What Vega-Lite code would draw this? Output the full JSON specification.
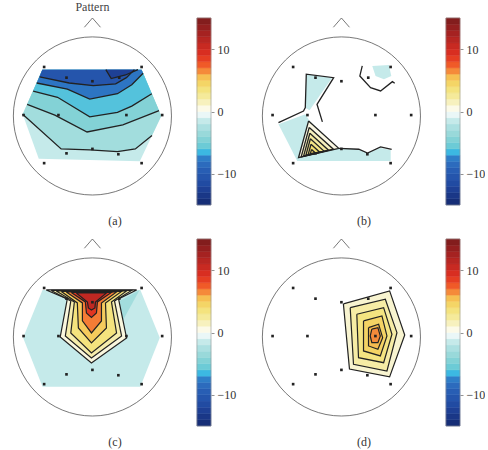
{
  "$schema": "https://vega.github.io/schema/vega-lite/v6.json",
  "padding": {"left": 3, "top": 0, "right": 0, "bottom": 0},
  "background": "white",
  "config": {
    "view": {"stroke": null},
    "title": {"font": "Liberation Serif", "fontSize": 12, "fontWeight": "normal", "color": "#333"}
  },
  "datasets": {
    "head": [{"u": 0, "v": 0}],
    "lbl": [{"t": "Pattern", "u": 0, "v": 1.225}],
    "frame": [{"lo": -15, "hi": 15}],
    "nose": [{"i": 0, "u": -0.09, "v": 0.996}, {"i": 1, "u": 0, "v": 1.1}, {"i": 2, "u": 0.09, "v": 0.996}],
    "e": [
      {"ch": "F7", "u": -0.54, "v": 0.55}, {"ch": "F8", "u": 0.55, "v": 0.55}, {"ch": "F3", "u": -0.29, "v": 0.43},
      {"ch": "Fz", "u": 0, "v": 0.39}, {"ch": "F4", "u": 0.3, "v": 0.43}, {"ch": "T3", "u": -0.77, "v": 0.01},
      {"ch": "C3", "u": -0.38, "v": 0.01}, {"ch": "C4", "u": 0.38, "v": 0.01}, {"ch": "T4", "u": 0.78, "v": 0.01},
      {"ch": "P3", "u": -0.29, "v": -0.42}, {"ch": "Pz", "u": 0, "v": -0.37}, {"ch": "P4", "u": 0.29, "v": -0.43},
      {"ch": "T5", "u": -0.54, "v": -0.53}, {"ch": "T6", "u": 0.55, "v": -0.53}
    ],
    "bar": [
      {"lo": -15, "hi": -14, "mid": -14.5}, {"lo": -14, "hi": -13, "mid": -13.5}, {"lo": -13, "hi": -12, "mid": -12.5},
      {"lo": -12, "hi": -11, "mid": -11.5}, {"lo": -11, "hi": -10, "mid": -10.5}, {"lo": -10, "hi": -9, "mid": -9.5},
      {"lo": -9, "hi": -8, "mid": -8.5}, {"lo": -8, "hi": -7, "mid": -7.5}, {"lo": -7, "hi": -6, "mid": -6.5},
      {"lo": -6, "hi": -5, "mid": -5.5}, {"lo": -5, "hi": -4, "mid": -4.5}, {"lo": -4, "hi": -3, "mid": -3.5},
      {"lo": -3, "hi": -2, "mid": -2.5}, {"lo": -2, "hi": -1, "mid": -1.5}, {"lo": -1, "hi": 0, "mid": -0.5},
      {"lo": 0, "hi": 1, "mid": 0.5}, {"lo": 1, "hi": 2, "mid": 1.5}, {"lo": 2, "hi": 3, "mid": 2.5},
      {"lo": 3, "hi": 4, "mid": 3.5}, {"lo": 4, "hi": 5, "mid": 4.5}, {"lo": 5, "hi": 6, "mid": 5.5},
      {"lo": 6, "hi": 7, "mid": 6.5}, {"lo": 7, "hi": 8, "mid": 7.5}, {"lo": 8, "hi": 9, "mid": 8.5},
      {"lo": 9, "hi": 10, "mid": 9.5}, {"lo": 10, "hi": 11, "mid": 10.5}, {"lo": 11, "hi": 12, "mid": 11.5},
      {"lo": 12, "hi": 13, "mid": 12.5}, {"lo": 13, "hi": 14, "mid": 13.5}, {"lo": 14, "hi": 15, "mid": 14.5}
    ],
    "a": [
      {"g": "a00", "k": "band", "i": 0, "u": -0.56, "v": 0.52, "z": -1.5},
      {"g": "a00", "k": "band", "i": 1, "u": 0.55, "v": 0.52, "z": -1.5},
      {"g": "a00", "k": "band", "i": 2, "u": 0.77, "v": 0.0, "z": -1.5},
      {"g": "a00", "k": "band", "i": 3, "u": 0.53, "v": -0.51, "z": -1.5},
      {"g": "a00", "k": "band", "i": 4, "u": -0.6, "v": -0.48, "z": -1.5},
      {"g": "a00", "k": "band", "i": 5, "u": -0.78, "v": 0.02, "z": -1.5},
      {"g": "a01", "k": "band", "i": 0, "u": -0.78, "v": 0.02, "z": -3},
      {"g": "a01", "k": "band", "i": 1, "u": -0.35, "v": -0.37, "z": -3},
      {"g": "a01", "k": "band", "i": 2, "u": -0.03, "v": -0.38, "z": -3},
      {"g": "a01", "k": "band", "i": 3, "u": 0.28, "v": -0.4, "z": -3},
      {"g": "a01", "k": "band", "i": 4, "u": 0.48, "v": -0.37, "z": -3},
      {"g": "a01", "k": "band", "i": 5, "u": 0.666, "v": -0.22, "z": -3},
      {"g": "a01", "k": "band", "i": 6, "u": 0.77, "v": 0.0, "z": -3},
      {"g": "a01", "k": "band", "i": 7, "u": 0.55, "v": 0.52, "z": -3},
      {"g": "a01", "k": "band", "i": 8, "u": -0.56, "v": 0.52, "z": -3},
      {"g": "a02", "k": "band", "i": 0, "u": -0.73, "v": 0.13, "z": -4.5},
      {"g": "a02", "k": "band", "i": 1, "u": -0.42, "v": 0.01, "z": -4.5},
      {"g": "a02", "k": "band", "i": 2, "u": -0.06, "v": -0.18, "z": -4.5},
      {"g": "a02", "k": "band", "i": 3, "u": 0.34, "v": -0.1, "z": -4.5},
      {"g": "a02", "k": "band", "i": 4, "u": 0.745, "v": 0.06, "z": -4.5},
      {"g": "a02", "k": "band", "i": 5, "u": 0.55, "v": 0.52, "z": -4.5},
      {"g": "a02", "k": "band", "i": 6, "u": -0.56, "v": 0.52, "z": -4.5},
      {"g": "a03", "k": "band", "i": 0, "u": -0.663, "v": 0.28, "z": -6},
      {"g": "a03", "k": "band", "i": 1, "u": -0.39, "v": 0.21, "z": -6},
      {"g": "a03", "k": "band", "i": 2, "u": -0.03, "v": -0.01, "z": -6},
      {"g": "a03", "k": "band", "i": 3, "u": 0.28, "v": 0.04, "z": -6},
      {"g": "a03", "k": "band", "i": 4, "u": 0.44, "v": 0.11, "z": -6},
      {"g": "a03", "k": "band", "i": 5, "u": 0.664, "v": 0.25, "z": -6},
      {"g": "a03", "k": "band", "i": 6, "u": 0.55, "v": 0.52, "z": -6},
      {"g": "a03", "k": "band", "i": 7, "u": -0.56, "v": 0.52, "z": -6},
      {"g": "a04", "k": "band", "i": 0, "u": -0.623, "v": 0.37, "z": -8},
      {"g": "a04", "k": "band", "i": 1, "u": -0.28, "v": 0.3, "z": -8},
      {"g": "a04", "k": "band", "i": 2, "u": -0.03, "v": 0.19, "z": -8},
      {"g": "a04", "k": "band", "i": 3, "u": 0.28, "v": 0.25, "z": -8},
      {"g": "a04", "k": "band", "i": 4, "u": 0.44, "v": 0.35, "z": -8},
      {"g": "a04", "k": "band", "i": 5, "u": 0.567, "v": 0.48, "z": -8},
      {"g": "a04", "k": "band", "i": 6, "u": 0.55, "v": 0.52, "z": -8},
      {"g": "a04", "k": "band", "i": 7, "u": -0.56, "v": 0.52, "z": -8},
      {"g": "a05", "k": "band", "i": 0, "u": -0.59, "v": 0.44, "z": -10.5},
      {"g": "a05", "k": "band", "i": 1, "u": -0.26, "v": 0.37, "z": -10.5},
      {"g": "a05", "k": "band", "i": 2, "u": 0.01, "v": 0.34, "z": -10.5},
      {"g": "a05", "k": "band", "i": 3, "u": 0.26, "v": 0.36, "z": -10.5},
      {"g": "a05", "k": "band", "i": 4, "u": 0.38, "v": 0.43, "z": -10.5},
      {"g": "a05", "k": "band", "i": 5, "u": 0.47, "v": 0.52, "z": -10.5},
      {"g": "a05", "k": "band", "i": 6, "u": -0.56, "v": 0.52, "z": -10.5},
      {"g": "a06", "k": "band", "i": 0, "u": 0.15, "v": 0.52, "z": -12.5},
      {"g": "a06", "k": "band", "i": 1, "u": 0.21, "v": 0.42, "z": -12.5},
      {"g": "a06", "k": "band", "i": 2, "u": 0.37, "v": 0.46, "z": -12.5},
      {"g": "a06", "k": "band", "i": 3, "u": 0.51, "v": 0.52, "z": -12.5},
      {"g": "a07", "k": "line", "i": 0, "u": -0.78, "v": 0.02},
      {"g": "a07", "k": "line", "i": 1, "u": -0.35, "v": -0.37},
      {"g": "a07", "k": "line", "i": 2, "u": -0.03, "v": -0.38},
      {"g": "a07", "k": "line", "i": 3, "u": 0.28, "v": -0.4},
      {"g": "a07", "k": "line", "i": 4, "u": 0.48, "v": -0.37},
      {"g": "a07", "k": "line", "i": 5, "u": 0.666, "v": -0.22},
      {"g": "a08", "k": "line", "i": 0, "u": -0.73, "v": 0.13},
      {"g": "a08", "k": "line", "i": 1, "u": -0.42, "v": 0.01},
      {"g": "a08", "k": "line", "i": 2, "u": -0.06, "v": -0.18},
      {"g": "a08", "k": "line", "i": 3, "u": 0.34, "v": -0.1},
      {"g": "a08", "k": "line", "i": 4, "u": 0.745, "v": 0.06},
      {"g": "a09", "k": "line", "i": 0, "u": -0.663, "v": 0.28},
      {"g": "a09", "k": "line", "i": 1, "u": -0.39, "v": 0.21},
      {"g": "a09", "k": "line", "i": 2, "u": -0.03, "v": -0.01},
      {"g": "a09", "k": "line", "i": 3, "u": 0.28, "v": 0.04},
      {"g": "a09", "k": "line", "i": 4, "u": 0.44, "v": 0.11},
      {"g": "a09", "k": "line", "i": 5, "u": 0.664, "v": 0.25},
      {"g": "a10", "k": "line", "i": 0, "u": -0.623, "v": 0.37},
      {"g": "a10", "k": "line", "i": 1, "u": -0.28, "v": 0.3},
      {"g": "a10", "k": "line", "i": 2, "u": -0.03, "v": 0.19},
      {"g": "a10", "k": "line", "i": 3, "u": 0.28, "v": 0.25},
      {"g": "a10", "k": "line", "i": 4, "u": 0.44, "v": 0.35},
      {"g": "a10", "k": "line", "i": 5, "u": 0.567, "v": 0.48},
      {"g": "a11", "k": "line", "i": 0, "u": -0.59, "v": 0.44},
      {"g": "a11", "k": "line", "i": 1, "u": -0.26, "v": 0.37},
      {"g": "a11", "k": "line", "i": 2, "u": 0.01, "v": 0.34},
      {"g": "a11", "k": "line", "i": 3, "u": 0.26, "v": 0.36},
      {"g": "a11", "k": "line", "i": 4, "u": 0.38, "v": 0.43},
      {"g": "a11", "k": "line", "i": 5, "u": 0.47, "v": 0.52},
      {"g": "a12", "k": "line", "i": 0, "u": 0.15, "v": 0.52},
      {"g": "a12", "k": "line", "i": 1, "u": 0.21, "v": 0.42},
      {"g": "a12", "k": "line", "i": 2, "u": 0.37, "v": 0.46},
      {"g": "a12", "k": "line", "i": 3, "u": 0.51, "v": 0.52}
    ],
    "b": [
      {"g": "b00", "k": "band", "i": 0, "u": -0.393, "v": 0.469, "z": -1.5},
      {"g": "b00", "k": "band", "i": 1, "u": -0.104, "v": 0.43, "z": -1.5},
      {"g": "b00", "k": "band", "i": 2, "u": -0.356, "v": 0.064, "z": -1.5},
      {"g": "b00", "k": "band", "i": 3, "u": -0.404, "v": 0.093, "z": -1.5},
      {"g": "b01", "k": "band", "i": 0, "u": -0.704, "v": -0.093, "z": -1.5},
      {"g": "b01", "k": "band", "i": 1, "u": -0.404, "v": 0.019, "z": -1.5},
      {"g": "b01", "k": "band", "i": 2, "u": -0.356, "v": -0.056, "z": -1.5},
      {"g": "b01", "k": "band", "i": 3, "u": -0.03, "v": -0.363, "z": -1.5},
      {"g": "b01", "k": "band", "i": 4, "u": 0.194, "v": -0.374, "z": -1.5},
      {"g": "b01", "k": "band", "i": 5, "u": 0.292, "v": -0.416, "z": -1.5},
      {"g": "b01", "k": "band", "i": 6, "u": 0.438, "v": -0.36, "z": -1.5},
      {"g": "b01", "k": "band", "i": 7, "u": 0.551, "v": -0.382, "z": -1.5},
      {"g": "b01", "k": "band", "i": 8, "u": 0.551, "v": -0.506, "z": -1.5},
      {"g": "b01", "k": "band", "i": 9, "u": -0.494, "v": -0.506, "z": -1.5},
      {"g": "b01", "k": "band", "i": 10, "u": -0.596, "v": -0.303, "z": -1.5},
      {"g": "b02", "k": "band", "i": 0, "u": 0.345, "v": 0.562, "z": -1.5},
      {"g": "b02", "k": "band", "i": 1, "u": 0.531, "v": 0.573, "z": -1.5},
      {"g": "b02", "k": "band", "i": 2, "u": 0.558, "v": 0.449, "z": -1.5},
      {"g": "b02", "k": "band", "i": 3, "u": 0.475, "v": 0.412, "z": -1.5},
      {"g": "b02", "k": "band", "i": 4, "u": 0.382, "v": 0.449, "z": -1.5},
      {"g": "b03", "k": "contour", "i": 0, "u": -0.367, "v": -0.056, "z": 0.6},
      {"g": "b03", "k": "contour", "i": 1, "u": -0.48, "v": -0.469, "z": 0.6},
      {"g": "b03", "k": "contour", "i": 2, "u": -0.03, "v": -0.363, "z": 0.6},
      {"g": "b03", "k": "contour", "i": 3, "u": -0.367, "v": -0.056, "z": 0.6},
      {"g": "b04", "k": "contour", "i": 0, "u": -0.36, "v": -0.129, "z": 1.5},
      {"g": "b04", "k": "contour", "i": 1, "u": -0.45, "v": -0.459, "z": 1.5},
      {"g": "b04", "k": "contour", "i": 2, "u": -0.09, "v": -0.374, "z": 1.5},
      {"g": "b04", "k": "contour", "i": 3, "u": -0.36, "v": -0.129, "z": 1.5},
      {"g": "b05", "k": "contour", "i": 0, "u": -0.353, "v": -0.194, "z": 2.4},
      {"g": "b05", "k": "contour", "i": 1, "u": -0.423, "v": -0.45, "z": 2.4},
      {"g": "b05", "k": "contour", "i": 2, "u": -0.144, "v": -0.385, "z": 2.4},
      {"g": "b05", "k": "contour", "i": 3, "u": -0.353, "v": -0.194, "z": 2.4},
      {"g": "b06", "k": "contour", "i": 0, "u": -0.347, "v": -0.256, "z": 3.2},
      {"g": "b06", "k": "contour", "i": 1, "u": -0.398, "v": -0.442, "z": 3.2},
      {"g": "b06", "k": "contour", "i": 2, "u": -0.195, "v": -0.394, "z": 3.2},
      {"g": "b06", "k": "contour", "i": 3, "u": -0.347, "v": -0.256, "z": 3.2},
      {"g": "b07", "k": "contour", "i": 0, "u": -0.34, "v": -0.318, "z": 4.0},
      {"g": "b07", "k": "contour", "i": 1, "u": -0.372, "v": -0.434, "z": 4.0},
      {"g": "b07", "k": "contour", "i": 2, "u": -0.246, "v": -0.404, "z": 4.0},
      {"g": "b07", "k": "contour", "i": 3, "u": -0.34, "v": -0.318, "z": 4.0},
      {"g": "b08", "k": "contour", "i": 0, "u": -0.334, "v": -0.376, "z": 4.8},
      {"g": "b08", "k": "contour", "i": 1, "u": -0.348, "v": -0.426, "z": 4.8},
      {"g": "b08", "k": "contour", "i": 2, "u": -0.294, "v": -0.413, "z": 4.8},
      {"g": "b08", "k": "contour", "i": 3, "u": -0.334, "v": -0.376, "z": 4.8},
      {"g": "b09", "k": "line", "i": 0, "u": -0.704, "v": -0.075},
      {"g": "b09", "k": "line", "i": 1, "u": -0.424, "v": 0.056},
      {"g": "b09", "k": "line", "i": 2, "u": -0.404, "v": 0.093},
      {"g": "b09", "k": "line", "i": 3, "u": -0.393, "v": 0.469},
      {"g": "b09", "k": "line", "i": 4, "u": -0.087, "v": 0.43},
      {"g": "b09", "k": "line", "i": 5, "u": -0.273, "v": 0.131},
      {"g": "b09", "k": "line", "i": 6, "u": -0.213, "v": -0.067},
      {"g": "b10", "k": "line", "i": 0, "u": -0.03, "v": -0.363},
      {"g": "b10", "k": "line", "i": 1, "u": 0.194, "v": -0.374},
      {"g": "b10", "k": "line", "i": 2, "u": 0.292, "v": -0.416},
      {"g": "b10", "k": "line", "i": 3, "u": 0.438, "v": -0.348},
      {"g": "b10", "k": "line", "i": 4, "u": 0.562, "v": -0.376},
      {"g": "b11", "k": "line", "i": 0, "u": 0.233, "v": 0.562},
      {"g": "b11", "k": "line", "i": 1, "u": 0.206, "v": 0.449},
      {"g": "b11", "k": "line", "i": 2, "u": 0.326, "v": 0.318},
      {"g": "b11", "k": "line", "i": 3, "u": 0.438, "v": 0.281},
      {"g": "b11", "k": "line", "i": 4, "u": 0.57, "v": 0.385},
      {"g": "b11", "k": "line", "i": 5, "u": 0.596, "v": 0.367}
    ],
    "c": [
      {"g": "c00", "k": "band", "i": 0, "u": -0.558, "v": 0.528, "z": -1.5},
      {"g": "c00", "k": "band", "i": 1, "u": 0.536, "v": 0.528, "z": -1.5},
      {"g": "c00", "k": "band", "i": 2, "u": 0.753, "v": -0.008, "z": -1.5},
      {"g": "c00", "k": "band", "i": 3, "u": 0.536, "v": -0.558, "z": -1.5},
      {"g": "c00", "k": "band", "i": 4, "u": -0.558, "v": -0.558, "z": -1.5},
      {"g": "c00", "k": "band", "i": 5, "u": -0.775, "v": -0.008, "z": -1.5},
      {"g": "c01", "k": "band", "i": 0, "u": 0.303, "v": 0.404, "z": -3},
      {"g": "c01", "k": "band", "i": 1, "u": 0.528, "v": 0.528, "z": -3},
      {"g": "c01", "k": "band", "i": 2, "u": 0.337, "v": 0.18, "z": -3},
      {"g": "c02", "k": "contour", "i": 0, "u": -0.517, "v": 0.528, "z": 0.7},
      {"g": "c02", "k": "contour", "i": 1, "u": 0.494, "v": 0.528, "z": 0.7},
      {"g": "c02", "k": "contour", "i": 2, "u": 0.292, "v": 0.427, "z": 0.7},
      {"g": "c02", "k": "contour", "i": 3, "u": 0.382, "v": -0.011, "z": 0.7},
      {"g": "c02", "k": "contour", "i": 4, "u": -0.011, "v": -0.292, "z": 0.7},
      {"g": "c02", "k": "contour", "i": 5, "u": -0.36, "v": 0.0, "z": 0.7},
      {"g": "c02", "k": "contour", "i": 6, "u": -0.281, "v": 0.427, "z": 0.7},
      {"g": "c02", "k": "contour", "i": 7, "u": -0.517, "v": 0.528, "z": 0.7},
      {"g": "c03", "k": "contour", "i": 0, "u": -0.461, "v": 0.522, "z": 2},
      {"g": "c03", "k": "contour", "i": 1, "u": 0.438, "v": 0.522, "z": 2},
      {"g": "c03", "k": "contour", "i": 2, "u": 0.247, "v": 0.404, "z": 2},
      {"g": "c03", "k": "contour", "i": 3, "u": 0.326, "v": 0.011, "z": 2},
      {"g": "c03", "k": "contour", "i": 4, "u": -0.011, "v": -0.236, "z": 2},
      {"g": "c03", "k": "contour", "i": 5, "u": -0.303, "v": 0.011, "z": 2},
      {"g": "c03", "k": "contour", "i": 6, "u": -0.242, "v": 0.404, "z": 2},
      {"g": "c03", "k": "contour", "i": 7, "u": -0.461, "v": 0.522, "z": 2},
      {"g": "c04", "k": "contour", "i": 0, "u": -0.404, "v": 0.517, "z": 3.5},
      {"g": "c04", "k": "contour", "i": 1, "u": 0.382, "v": 0.517, "z": 3.5},
      {"g": "c04", "k": "contour", "i": 2, "u": 0.213, "v": 0.393, "z": 3.5},
      {"g": "c04", "k": "contour", "i": 3, "u": 0.27, "v": 0.045, "z": 3.5},
      {"g": "c04", "k": "contour", "i": 4, "u": -0.011, "v": -0.18, "z": 3.5},
      {"g": "c04", "k": "contour", "i": 5, "u": -0.242, "v": 0.045, "z": 3.5},
      {"g": "c04", "k": "contour", "i": 6, "u": -0.202, "v": 0.393, "z": 3.5},
      {"g": "c04", "k": "contour", "i": 7, "u": -0.404, "v": 0.517, "z": 3.5},
      {"g": "c05", "k": "contour", "i": 0, "u": -0.348, "v": 0.511, "z": 5},
      {"g": "c05", "k": "contour", "i": 1, "u": 0.326, "v": 0.511, "z": 5},
      {"g": "c05", "k": "contour", "i": 2, "u": 0.146, "v": 0.382, "z": 5},
      {"g": "c05", "k": "contour", "i": 3, "u": 0.157, "v": 0.101, "z": 5},
      {"g": "c05", "k": "contour", "i": 4, "u": -0.011, "v": -0.067, "z": 5},
      {"g": "c05", "k": "contour", "i": 5, "u": -0.157, "v": 0.101, "z": 5},
      {"g": "c05", "k": "contour", "i": 6, "u": -0.169, "v": 0.382, "z": 5},
      {"g": "c05", "k": "contour", "i": 7, "u": -0.348, "v": 0.511, "z": 5},
      {"g": "c06", "k": "contour", "i": 0, "u": -0.292, "v": 0.506, "z": 6.8},
      {"g": "c06", "k": "contour", "i": 1, "u": 0.27, "v": 0.506, "z": 6.8},
      {"g": "c06", "k": "contour", "i": 2, "u": 0.101, "v": 0.382, "z": 6.8},
      {"g": "c06", "k": "contour", "i": 3, "u": 0.101, "v": 0.18, "z": 6.8},
      {"g": "c06", "k": "contour", "i": 4, "u": -0.011, "v": 0.045, "z": 6.8},
      {"g": "c06", "k": "contour", "i": 5, "u": -0.112, "v": 0.18, "z": 6.8},
      {"g": "c06", "k": "contour", "i": 6, "u": -0.112, "v": 0.382, "z": 6.8},
      {"g": "c06", "k": "contour", "i": 7, "u": -0.292, "v": 0.506, "z": 6.8},
      {"g": "c07", "k": "contour", "i": 0, "u": -0.236, "v": 0.5, "z": 8.8},
      {"g": "c07", "k": "contour", "i": 1, "u": 0.213, "v": 0.5, "z": 8.8},
      {"g": "c07", "k": "contour", "i": 2, "u": 0.056, "v": 0.393, "z": 8.8},
      {"g": "c07", "k": "contour", "i": 3, "u": 0.045, "v": 0.27, "z": 8.8},
      {"g": "c07", "k": "contour", "i": 4, "u": -0.011, "v": 0.219, "z": 8.8},
      {"g": "c07", "k": "contour", "i": 5, "u": -0.067, "v": 0.27, "z": 8.8},
      {"g": "c07", "k": "contour", "i": 6, "u": -0.079, "v": 0.393, "z": 8.8},
      {"g": "c07", "k": "contour", "i": 7, "u": -0.236, "v": 0.5, "z": 8.8},
      {"g": "c08", "k": "contour", "i": 0, "u": -0.18, "v": 0.494, "z": 11},
      {"g": "c08", "k": "contour", "i": 1, "u": 0.157, "v": 0.494, "z": 11},
      {"g": "c08", "k": "contour", "i": 2, "u": 0.034, "v": 0.393, "z": 11},
      {"g": "c08", "k": "contour", "i": 3, "u": 0.028, "v": 0.326, "z": 11},
      {"g": "c08", "k": "contour", "i": 4, "u": -0.011, "v": 0.303, "z": 11},
      {"g": "c08", "k": "contour", "i": 5, "u": -0.045, "v": 0.326, "z": 11},
      {"g": "c08", "k": "contour", "i": 6, "u": -0.056, "v": 0.393, "z": 11},
      {"g": "c08", "k": "contour", "i": 7, "u": -0.18, "v": 0.494, "z": 11}
    ],
    "d": [
      {"g": "d00", "k": "contour", "i": 0, "u": 0.022, "v": 0.371, "z": 1},
      {"g": "d00", "k": "contour", "i": 1, "u": 0.539, "v": 0.517, "z": 1},
      {"g": "d00", "k": "contour", "i": 2, "u": 0.708, "v": 0.022, "z": 1},
      {"g": "d00", "k": "contour", "i": 3, "u": 0.539, "v": -0.449, "z": 1},
      {"g": "d00", "k": "contour", "i": 4, "u": 0.09, "v": -0.36, "z": 1},
      {"g": "d00", "k": "contour", "i": 5, "u": 0.022, "v": 0.371, "z": 1},
      {"g": "d01", "k": "contour", "i": 0, "u": 0.098, "v": 0.329, "z": 2.2},
      {"g": "d01", "k": "contour", "i": 1, "u": 0.491, "v": 0.424, "z": 2.2},
      {"g": "d01", "k": "contour", "i": 2, "u": 0.621, "v": 0.048, "z": 2.2},
      {"g": "d01", "k": "contour", "i": 3, "u": 0.509, "v": -0.382, "z": 2.2},
      {"g": "d01", "k": "contour", "i": 4, "u": 0.135, "v": -0.307, "z": 2.2},
      {"g": "d01", "k": "contour", "i": 5, "u": 0.098, "v": 0.329, "z": 2.2},
      {"g": "d02", "k": "contour", "i": 0, "u": 0.172, "v": 0.255, "z": 3.4},
      {"g": "d02", "k": "contour", "i": 1, "u": 0.472, "v": 0.329, "z": 3.4},
      {"g": "d02", "k": "contour", "i": 2, "u": 0.565, "v": 0.03, "z": 3.4},
      {"g": "d02", "k": "contour", "i": 3, "u": 0.472, "v": -0.289, "z": 3.4},
      {"g": "d02", "k": "contour", "i": 4, "u": 0.191, "v": -0.233, "z": 3.4},
      {"g": "d02", "k": "contour", "i": 5, "u": 0.172, "v": 0.255, "z": 3.4},
      {"g": "d03", "k": "contour", "i": 0, "u": 0.247, "v": 0.18, "z": 4.6},
      {"g": "d03", "k": "contour", "i": 1, "u": 0.453, "v": 0.236, "z": 4.6},
      {"g": "d03", "k": "contour", "i": 2, "u": 0.509, "v": 0.011, "z": 4.6},
      {"g": "d03", "k": "contour", "i": 3, "u": 0.435, "v": -0.213, "z": 4.6},
      {"g": "d03", "k": "contour", "i": 4, "u": 0.247, "v": -0.157, "z": 4.6},
      {"g": "d03", "k": "contour", "i": 5, "u": 0.247, "v": 0.18, "z": 4.6},
      {"g": "d04", "k": "contour", "i": 0, "u": 0.303, "v": 0.104, "z": 5.6},
      {"g": "d04", "k": "contour", "i": 1, "u": 0.416, "v": 0.143, "z": 5.6},
      {"g": "d04", "k": "contour", "i": 2, "u": 0.461, "v": -0.008, "z": 5.6},
      {"g": "d04", "k": "contour", "i": 3, "u": 0.408, "v": -0.138, "z": 5.6},
      {"g": "d04", "k": "contour", "i": 4, "u": 0.303, "v": -0.101, "z": 5.6},
      {"g": "d04", "k": "contour", "i": 5, "u": 0.303, "v": 0.104, "z": 5.6},
      {"g": "d05", "k": "contour", "i": 0, "u": 0.34, "v": 0.087, "z": 6.5},
      {"g": "d05", "k": "contour", "i": 1, "u": 0.408, "v": 0.104, "z": 6.5},
      {"g": "d05", "k": "contour", "i": 2, "u": 0.435, "v": 0.011, "z": 6.5},
      {"g": "d05", "k": "contour", "i": 3, "u": 0.408, "v": -0.064, "z": 6.5},
      {"g": "d05", "k": "contour", "i": 4, "u": 0.34, "v": -0.064, "z": 6.5},
      {"g": "d05", "k": "contour", "i": 5, "u": 0.322, "v": 0.011, "z": 6.5},
      {"g": "d05", "k": "contour", "i": 6, "u": 0.34, "v": 0.087, "z": 6.5}
    ]
  },
  "columns": 2,
  "spacing": {"row": 34, "column": 41},
  "bounds": "flush",
  "concat": [
    {
      "width": 208, "height": 187,
      "title": {"text": "(a)", "orient": "bottom", "offset": 11, "dx": 8},
      "resolve": {"scale": {"y": "independent"}},
      "layer": [
        {
          "layer": [
            {"data": {"name": "head"}, "mark": {"type": "point", "shape": "circle", "size": 25000, "filled": false, "color": "#555", "strokeWidth": 0.8, "opacity": 1}},
            {"data": {"name": "nose"}, "mark": {"type": "line", "color": "#555", "strokeWidth": 0.8}, "encoding": {"order": {"field": "i"}}},
            {"data": {"name": "a"}, "transform": [{"filter": "datum.k !== 'line'"}], "mark": {"type": "line", "strokeOpacity": 0, "strokeWidth": 0},
             "encoding": {"detail": {"field": "g"}, "order": {"field": "i"}, "fill": {"field": "z", "type": "quantitative", "legend": null, "scale": {"type": "linear", "domain": [-15, -13, -11, -9, -7.5, -6.5, -5.5, -4, -2, -1, 0, 1, 2.5, 4, 5.5, 6.5, 7.5, 9, 11, 13, 15], "range": ["#14296f", "#1c3b8f", "#2350a8", "#2a62b8", "#2f7ec8", "#3cb8e2", "#6ccbd6", "#8fd5d6", "#b5e4e4", "#d4efef", "#ffffff", "#f8f4d0", "#f5ea9a", "#f3e070", "#f6c052", "#f58a3a", "#f05a28", "#e03020", "#c02822", "#9c2020", "#7a1c1c"], "interpolate": "rgb"}}}},
            {"data": {"name": "a"}, "transform": [{"filter": "datum.k !== 'band'"}], "mark": {"type": "line", "color": "#222", "strokeWidth": 1.3},
             "encoding": {"detail": {"field": "g"}, "order": {"field": "i"}}},
            {"data": {"name": "e"}, "mark": {"type": "square", "size": 7, "color": "#222", "opacity": 1}},
            {"data": {"name": "lbl"}, "mark": {"type": "text", "font": "Liberation Serif", "fontSize": 12, "color": "#444", "baseline": "middle"},
             "encoding": {"text": {"field": "t"}}}
          ],
          "encoding": {
            "x": {"field": "u", "type": "quantitative", "scale": {"domain": [-1, 1.326], "nice": false, "zero": false}, "axis": null},
            "y": {"field": "v", "type": "quantitative", "scale": {"domain": [-1, 1.1], "nice": false, "zero": false}, "axis": null}
          }
        },
        {
          "layer": [
            {"data": {"name": "bar"}, "mark": {"type": "rect", "strokeWidth": 0.5},
             "encoding": {
               "x": {"datum": 1.169, "type": "quantitative", "scale": {"domain": [-1, 1.326], "nice": false, "zero": false}, "axis": null},
               "x2": {"datum": 1.326},
               "y": {"field": "lo", "type": "quantitative", "scale": {"domain": [-15, 15], "nice": false, "zero": false}, "axis": {"orient": "right", "values": [-10, 0, 10], "format": "d", "tickSize": 3, "tickColor": "#777", "tickWidth": 0.8, "domain": false, "grid": false, "title": null, "labelFont": "Liberation Serif", "labelFontSize": 12, "labelColor": "#333", "labelPadding": 3}},
               "y2": {"field": "hi"},
               "fill": {"field": "mid", "type": "quantitative", "legend": null, "scale": {"type": "linear", "domain": [-15, -13, -11, -9, -7.5, -6.5, -5.5, -4, -2, -1, 0, 1, 2.5, 4, 5.5, 6.5, 7.5, 9, 11, 13, 15], "range": ["#14296f", "#1c3b8f", "#2350a8", "#2a62b8", "#2f7ec8", "#3cb8e2", "#6ccbd6", "#8fd5d6", "#b5e4e4", "#d4efef", "#ffffff", "#f8f4d0", "#f5ea9a", "#f3e070", "#f6c052", "#f58a3a", "#f05a28", "#e03020", "#c02822", "#9c2020", "#7a1c1c"], "interpolate": "rgb"}},
               "stroke": {"field": "mid", "type": "quantitative", "legend": null, "scale": {"type": "linear", "domain": [-15, -13, -11, -9, -7.5, -6.5, -5.5, -4, -2, -1, 0, 1, 2.5, 4, 5.5, 6.5, 7.5, 9, 11, 13, 15], "range": ["#14296f", "#1c3b8f", "#2350a8", "#2a62b8", "#2f7ec8", "#3cb8e2", "#6ccbd6", "#8fd5d6", "#b5e4e4", "#d4efef", "#ffffff", "#f8f4d0", "#f5ea9a", "#f3e070", "#f6c052", "#f58a3a", "#f05a28", "#e03020", "#c02822", "#9c2020", "#7a1c1c"], "interpolate": "rgb"}}
             }},
            {"data": {"name": "frame"}, "mark": {"type": "rect", "filled": false, "color": "#999", "strokeWidth": 0.6},
             "encoding": {
               "x": {"datum": 1.169, "type": "quantitative", "scale": {"domain": [-1, 1.326], "nice": false, "zero": false}, "axis": null},
               "x2": {"datum": 1.326},
               "y": {"field": "lo", "type": "quantitative", "scale": {"domain": [-15, 15], "nice": false, "zero": false}},
               "y2": {"field": "hi"}
             }}
          ]
        }
      ]
    },
    {
      "width": 208, "height": 187,
      "title": {"text": "(b)", "orient": "bottom", "offset": 11, "dx": 8},
      "resolve": {"scale": {"y": "independent"}},
      "layer": [
        {
          "layer": [
            {"data": {"name": "head"}, "mark": {"type": "point", "shape": "circle", "size": 25000, "filled": false, "color": "#555", "strokeWidth": 0.8, "opacity": 1}},
            {"data": {"name": "nose"}, "mark": {"type": "line", "color": "#555", "strokeWidth": 0.8}, "encoding": {"order": {"field": "i"}}},
            {"data": {"name": "b"}, "transform": [{"filter": "datum.k !== 'line'"}], "mark": {"type": "line", "strokeOpacity": 0, "strokeWidth": 0},
             "encoding": {"detail": {"field": "g"}, "order": {"field": "i"}, "fill": {"field": "z", "type": "quantitative", "legend": null, "scale": {"type": "linear", "domain": [-15, -13, -11, -9, -7.5, -6.5, -5.5, -4, -2, -1, 0, 1, 2.5, 4, 5.5, 6.5, 7.5, 9, 11, 13, 15], "range": ["#14296f", "#1c3b8f", "#2350a8", "#2a62b8", "#2f7ec8", "#3cb8e2", "#6ccbd6", "#8fd5d6", "#b5e4e4", "#d4efef", "#ffffff", "#f8f4d0", "#f5ea9a", "#f3e070", "#f6c052", "#f58a3a", "#f05a28", "#e03020", "#c02822", "#9c2020", "#7a1c1c"], "interpolate": "rgb"}}}},
            {"data": {"name": "b"}, "transform": [{"filter": "datum.k !== 'band'"}], "mark": {"type": "line", "color": "#222", "strokeWidth": 1.3},
             "encoding": {"detail": {"field": "g"}, "order": {"field": "i"}}},
            {"data": {"name": "e"}, "mark": {"type": "square", "size": 7, "color": "#222", "opacity": 1}}
          ],
          "encoding": {
            "x": {"field": "u", "type": "quantitative", "scale": {"domain": [-1, 1.326], "nice": false, "zero": false}, "axis": null},
            "y": {"field": "v", "type": "quantitative", "scale": {"domain": [-1, 1.1], "nice": false, "zero": false}, "axis": null}
          }
        },
        {
          "layer": [
            {"data": {"name": "bar"}, "mark": {"type": "rect", "strokeWidth": 0.5},
             "encoding": {
               "x": {"datum": 1.169, "type": "quantitative", "scale": {"domain": [-1, 1.326], "nice": false, "zero": false}, "axis": null},
               "x2": {"datum": 1.326},
               "y": {"field": "lo", "type": "quantitative", "scale": {"domain": [-15, 15], "nice": false, "zero": false}, "axis": {"orient": "right", "values": [-10, 0, 10], "format": "d", "tickSize": 3, "tickColor": "#777", "tickWidth": 0.8, "domain": false, "grid": false, "title": null, "labelFont": "Liberation Serif", "labelFontSize": 12, "labelColor": "#333", "labelPadding": 3}},
               "y2": {"field": "hi"},
               "fill": {"field": "mid", "type": "quantitative", "legend": null, "scale": {"type": "linear", "domain": [-15, -13, -11, -9, -7.5, -6.5, -5.5, -4, -2, -1, 0, 1, 2.5, 4, 5.5, 6.5, 7.5, 9, 11, 13, 15], "range": ["#14296f", "#1c3b8f", "#2350a8", "#2a62b8", "#2f7ec8", "#3cb8e2", "#6ccbd6", "#8fd5d6", "#b5e4e4", "#d4efef", "#ffffff", "#f8f4d0", "#f5ea9a", "#f3e070", "#f6c052", "#f58a3a", "#f05a28", "#e03020", "#c02822", "#9c2020", "#7a1c1c"], "interpolate": "rgb"}},
               "stroke": {"field": "mid", "type": "quantitative", "legend": null, "scale": {"type": "linear", "domain": [-15, -13, -11, -9, -7.5, -6.5, -5.5, -4, -2, -1, 0, 1, 2.5, 4, 5.5, 6.5, 7.5, 9, 11, 13, 15], "range": ["#14296f", "#1c3b8f", "#2350a8", "#2a62b8", "#2f7ec8", "#3cb8e2", "#6ccbd6", "#8fd5d6", "#b5e4e4", "#d4efef", "#ffffff", "#f8f4d0", "#f5ea9a", "#f3e070", "#f6c052", "#f58a3a", "#f05a28", "#e03020", "#c02822", "#9c2020", "#7a1c1c"], "interpolate": "rgb"}}
             }},
            {"data": {"name": "frame"}, "mark": {"type": "rect", "filled": false, "color": "#999", "strokeWidth": 0.6},
             "encoding": {
               "x": {"datum": 1.169, "type": "quantitative", "scale": {"domain": [-1, 1.326], "nice": false, "zero": false}, "axis": null},
               "x2": {"datum": 1.326},
               "y": {"field": "lo", "type": "quantitative", "scale": {"domain": [-15, 15], "nice": false, "zero": false}},
               "y2": {"field": "hi"}
             }}
          ]
        }
      ]
    },
    {
      "width": 208, "height": 187,
      "title": {"text": "(c)", "orient": "bottom", "offset": 11, "dx": 8},
      "resolve": {"scale": {"y": "independent"}},
      "layer": [
        {
          "layer": [
            {"data": {"name": "head"}, "mark": {"type": "point", "shape": "circle", "size": 25000, "filled": false, "color": "#555", "strokeWidth": 0.8, "opacity": 1}},
            {"data": {"name": "nose"}, "mark": {"type": "line", "color": "#555", "strokeWidth": 0.8}, "encoding": {"order": {"field": "i"}}},
            {"data": {"name": "c"}, "transform": [{"filter": "datum.k !== 'line'"}], "mark": {"type": "line", "strokeOpacity": 0, "strokeWidth": 0},
             "encoding": {"detail": {"field": "g"}, "order": {"field": "i"}, "fill": {"field": "z", "type": "quantitative", "legend": null, "scale": {"type": "linear", "domain": [-15, -13, -11, -9, -7.5, -6.5, -5.5, -4, -2, -1, 0, 1, 2.5, 4, 5.5, 6.5, 7.5, 9, 11, 13, 15], "range": ["#14296f", "#1c3b8f", "#2350a8", "#2a62b8", "#2f7ec8", "#3cb8e2", "#6ccbd6", "#8fd5d6", "#b5e4e4", "#d4efef", "#ffffff", "#f8f4d0", "#f5ea9a", "#f3e070", "#f6c052", "#f58a3a", "#f05a28", "#e03020", "#c02822", "#9c2020", "#7a1c1c"], "interpolate": "rgb"}}}},
            {"data": {"name": "c"}, "transform": [{"filter": "datum.k !== 'band'"}], "mark": {"type": "line", "color": "#222", "strokeWidth": 1.2},
             "encoding": {"detail": {"field": "g"}, "order": {"field": "i"}}},
            {"data": {"name": "e"}, "mark": {"type": "square", "size": 7, "color": "#222", "opacity": 1}}
          ],
          "encoding": {
            "x": {"field": "u", "type": "quantitative", "scale": {"domain": [-1, 1.326], "nice": false, "zero": false}, "axis": null},
            "y": {"field": "v", "type": "quantitative", "scale": {"domain": [-1, 1.1], "nice": false, "zero": false}, "axis": null}
          }
        },
        {
          "layer": [
            {"data": {"name": "bar"}, "mark": {"type": "rect", "strokeWidth": 0.5},
             "encoding": {
               "x": {"datum": 1.169, "type": "quantitative", "scale": {"domain": [-1, 1.326], "nice": false, "zero": false}, "axis": null},
               "x2": {"datum": 1.326},
               "y": {"field": "lo", "type": "quantitative", "scale": {"domain": [-15, 15], "nice": false, "zero": false}, "axis": {"orient": "right", "values": [-10, 0, 10], "format": "d", "tickSize": 3, "tickColor": "#777", "tickWidth": 0.8, "domain": false, "grid": false, "title": null, "labelFont": "Liberation Serif", "labelFontSize": 12, "labelColor": "#333", "labelPadding": 3}},
               "y2": {"field": "hi"},
               "fill": {"field": "mid", "type": "quantitative", "legend": null, "scale": {"type": "linear", "domain": [-15, -13, -11, -9, -7.5, -6.5, -5.5, -4, -2, -1, 0, 1, 2.5, 4, 5.5, 6.5, 7.5, 9, 11, 13, 15], "range": ["#14296f", "#1c3b8f", "#2350a8", "#2a62b8", "#2f7ec8", "#3cb8e2", "#6ccbd6", "#8fd5d6", "#b5e4e4", "#d4efef", "#ffffff", "#f8f4d0", "#f5ea9a", "#f3e070", "#f6c052", "#f58a3a", "#f05a28", "#e03020", "#c02822", "#9c2020", "#7a1c1c"], "interpolate": "rgb"}},
               "stroke": {"field": "mid", "type": "quantitative", "legend": null, "scale": {"type": "linear", "domain": [-15, -13, -11, -9, -7.5, -6.5, -5.5, -4, -2, -1, 0, 1, 2.5, 4, 5.5, 6.5, 7.5, 9, 11, 13, 15], "range": ["#14296f", "#1c3b8f", "#2350a8", "#2a62b8", "#2f7ec8", "#3cb8e2", "#6ccbd6", "#8fd5d6", "#b5e4e4", "#d4efef", "#ffffff", "#f8f4d0", "#f5ea9a", "#f3e070", "#f6c052", "#f58a3a", "#f05a28", "#e03020", "#c02822", "#9c2020", "#7a1c1c"], "interpolate": "rgb"}}
             }},
            {"data": {"name": "frame"}, "mark": {"type": "rect", "filled": false, "color": "#999", "strokeWidth": 0.6},
             "encoding": {
               "x": {"datum": 1.169, "type": "quantitative", "scale": {"domain": [-1, 1.326], "nice": false, "zero": false}, "axis": null},
               "x2": {"datum": 1.326},
               "y": {"field": "lo", "type": "quantitative", "scale": {"domain": [-15, 15], "nice": false, "zero": false}},
               "y2": {"field": "hi"}
             }}
          ]
        }
      ]
    },
    {
      "width": 208, "height": 187,
      "title": {"text": "(d)", "orient": "bottom", "offset": 11, "dx": 8},
      "resolve": {"scale": {"y": "independent"}},
      "layer": [
        {
          "layer": [
            {"data": {"name": "head"}, "mark": {"type": "point", "shape": "circle", "size": 25000, "filled": false, "color": "#555", "strokeWidth": 0.8, "opacity": 1}},
            {"data": {"name": "nose"}, "mark": {"type": "line", "color": "#555", "strokeWidth": 0.8}, "encoding": {"order": {"field": "i"}}},
            {"data": {"name": "d"}, "transform": [{"filter": "datum.k !== 'line'"}], "mark": {"type": "line", "strokeOpacity": 0, "strokeWidth": 0},
             "encoding": {"detail": {"field": "g"}, "order": {"field": "i"}, "fill": {"field": "z", "type": "quantitative", "legend": null, "scale": {"type": "linear", "domain": [-15, -13, -11, -9, -7.5, -6.5, -5.5, -4, -2, -1, 0, 1, 2.5, 4, 5.5, 6.5, 7.5, 9, 11, 13, 15], "range": ["#14296f", "#1c3b8f", "#2350a8", "#2a62b8", "#2f7ec8", "#3cb8e2", "#6ccbd6", "#8fd5d6", "#b5e4e4", "#d4efef", "#ffffff", "#f8f4d0", "#f5ea9a", "#f3e070", "#f6c052", "#f58a3a", "#f05a28", "#e03020", "#c02822", "#9c2020", "#7a1c1c"], "interpolate": "rgb"}}}},
            {"data": {"name": "d"}, "transform": [{"filter": "datum.k !== 'band'"}], "mark": {"type": "line", "color": "#222", "strokeWidth": 1.2},
             "encoding": {"detail": {"field": "g"}, "order": {"field": "i"}}},
            {"data": {"name": "e"}, "mark": {"type": "square", "size": 7, "color": "#222", "opacity": 1}}
          ],
          "encoding": {
            "x": {"field": "u", "type": "quantitative", "scale": {"domain": [-1, 1.326], "nice": false, "zero": false}, "axis": null},
            "y": {"field": "v", "type": "quantitative", "scale": {"domain": [-1, 1.1], "nice": false, "zero": false}, "axis": null}
          }
        },
        {
          "layer": [
            {"data": {"name": "bar"}, "mark": {"type": "rect", "strokeWidth": 0.5},
             "encoding": {
               "x": {"datum": 1.169, "type": "quantitative", "scale": {"domain": [-1, 1.326], "nice": false, "zero": false}, "axis": null},
               "x2": {"datum": 1.326},
               "y": {"field": "lo", "type": "quantitative", "scale": {"domain": [-15, 15], "nice": false, "zero": false}, "axis": {"orient": "right", "values": [-10, 0, 10], "format": "d", "tickSize": 3, "tickColor": "#777", "tickWidth": 0.8, "domain": false, "grid": false, "title": null, "labelFont": "Liberation Serif", "labelFontSize": 12, "labelColor": "#333", "labelPadding": 3}},
               "y2": {"field": "hi"},
               "fill": {"field": "mid", "type": "quantitative", "legend": null, "scale": {"type": "linear", "domain": [-15, -13, -11, -9, -7.5, -6.5, -5.5, -4, -2, -1, 0, 1, 2.5, 4, 5.5, 6.5, 7.5, 9, 11, 13, 15], "range": ["#14296f", "#1c3b8f", "#2350a8", "#2a62b8", "#2f7ec8", "#3cb8e2", "#6ccbd6", "#8fd5d6", "#b5e4e4", "#d4efef", "#ffffff", "#f8f4d0", "#f5ea9a", "#f3e070", "#f6c052", "#f58a3a", "#f05a28", "#e03020", "#c02822", "#9c2020", "#7a1c1c"], "interpolate": "rgb"}},
               "stroke": {"field": "mid", "type": "quantitative", "legend": null, "scale": {"type": "linear", "domain": [-15, -13, -11, -9, -7.5, -6.5, -5.5, -4, -2, -1, 0, 1, 2.5, 4, 5.5, 6.5, 7.5, 9, 11, 13, 15], "range": ["#14296f", "#1c3b8f", "#2350a8", "#2a62b8", "#2f7ec8", "#3cb8e2", "#6ccbd6", "#8fd5d6", "#b5e4e4", "#d4efef", "#ffffff", "#f8f4d0", "#f5ea9a", "#f3e070", "#f6c052", "#f58a3a", "#f05a28", "#e03020", "#c02822", "#9c2020", "#7a1c1c"], "interpolate": "rgb"}}
             }},
            {"data": {"name": "frame"}, "mark": {"type": "rect", "filled": false, "color": "#999", "strokeWidth": 0.6},
             "encoding": {
               "x": {"datum": 1.169, "type": "quantitative", "scale": {"domain": [-1, 1.326], "nice": false, "zero": false}, "axis": null},
               "x2": {"datum": 1.326},
               "y": {"field": "lo", "type": "quantitative", "scale": {"domain": [-15, 15], "nice": false, "zero": false}},
               "y2": {"field": "hi"}
             }}
          ]
        }
      ]
    }
  ]
}
